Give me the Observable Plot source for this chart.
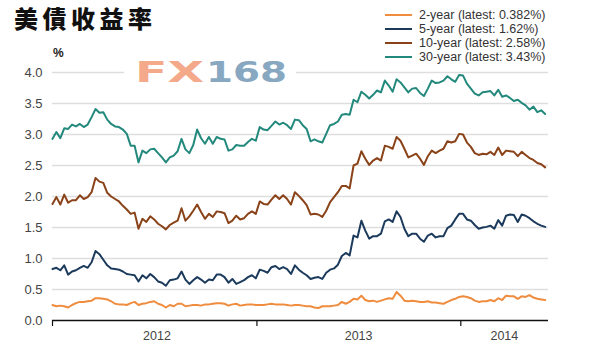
<!DOCTYPE html>
<html>
<head>
<meta charset="utf-8">
<script src="https://cdn.jsdelivr.net/npm/d3@7"></script>
<script src="https://cdn.jsdelivr.net/npm/@observablehq/plot@0.6"></script>
<style>
  html, body { margin: 0; padding: 0; background: #fff; }
  #wrap { position: relative; width: 601px; height: 360px; overflow: hidden; font-family: "Liberation Sans", Arial, sans-serif; }
  #chart { position: absolute; left: 0; top: 0; }
  .title { position: absolute; left: 14px; top: 6px; font-family: "Noto Sans CJK TC", "Noto Sans CJK SC", sans-serif; font-weight: 900; font-size: 24px; line-height: 24px; letter-spacing: 4.5px; color: #111; white-space: nowrap; }
  .unit { position: absolute; left: 53px; top: 46px; font-size: 12px; font-weight: bold; color: #222; }
  .leg { position: absolute; left: 385px; width: 27px; height: 2px; }
  .legt { position: absolute; left: 419px; font-size: 12.5px; line-height: 14px; color: #333; white-space: nowrap; }
</style>
</head>
<body>
<div id="wrap"></div>
<script>
// ---- data (weekly readings, Jan 2012 – end May 2014) ----
const seriesKeys = ["2-year", "5-year", "10-year", "30-year"];
const latestLabels = ["0.382%", "1.62%", "2.58%", "3.43%"];
const seriesColors = ["#ef8c3e", "#1b3a5c", "#8a4218", "#23897c"];
const startDate = "2012-01-01";
const endDate = "2014-06-07";
const yearTicks = ["2012-01-01", "2013-01-01", "2014-01-01"];
const yearLabelDates = ["2012-07-06", "2013-07-02", "2014-03-20"];
const yTicks = [0, 0.5, 1, 1.5, 2, 2.5, 3, 3.5, 4];

const y2 = [0.25,0.23,0.24,0.23,0.21,0.25,0.28,0.30,0.30,0.31,0.32,0.36,0.36,0.35,0.34,0.31,0.27,0.26,0.26,0.25,0.28,0.30,0.25,0.27,0.28,0.30,0.31,
0.27,0.25,0.21,0.25,0.23,0.27,0.27,0.23,0.24,0.25,0.25,0.24,0.26,0.26,0.27,0.28,0.28,0.27,0.24,0.26,0.27,0.24,0.25,0.26,0.26,0.25,0.25,
0.25,
0.26,0.27,0.26,0.26,0.26,0.25,0.24,0.25,0.25,0.24,0.23,0.23,0.21,0.20,0.23,0.23,0.23,0.24,0.25,0.30,0.27,0.30,0.35,0.34,0.40,0.33,0.31,0.32,
0.30,0.32,0.34,0.36,0.35,0.46,0.40,0.32,0.31,0.32,0.31,0.30,0.30,0.31,0.29,0.29,0.28,0.27,0.30,0.33,0.35,0.38,0.39,0.38,0.36,0.32,0.30,0.31,
0.31,0.33,0.31,0.36,0.33,0.40,0.39,0.39,0.35,0.39,0.38,0.41,0.37,0.35,0.34,0.33];

const y5 = [0.83,0.85,0.81,0.89,0.74,0.79,0.81,0.85,0.88,0.85,0.94,1.12,1.07,0.98,0.89,0.84,0.83,0.82,0.79,0.75,0.74,0.73,0.63,0.73,0.68,0.75,0.70,
0.63,0.61,0.56,0.65,0.66,0.68,0.79,0.66,0.59,0.65,0.70,0.66,0.61,0.66,0.65,0.74,0.74,0.70,0.61,0.67,0.59,0.62,0.65,0.70,0.73,0.68,0.82,
0.80,
0.77,0.86,0.88,0.83,0.86,0.83,0.75,0.89,0.82,0.77,0.73,0.67,0.69,0.70,0.67,0.77,0.82,0.84,0.90,1.04,1.09,1.05,1.37,1.34,1.61,1.45,1.32,1.36,
1.36,1.40,1.60,1.63,1.59,1.76,1.67,1.48,1.36,1.40,1.40,1.32,1.27,1.37,1.40,1.34,1.36,1.36,1.49,1.53,1.63,1.72,1.72,1.63,1.61,1.54,1.48,1.50,
1.51,1.53,1.48,1.62,1.53,1.69,1.71,1.70,1.59,1.71,1.69,1.65,1.60,1.56,1.53,1.51];

const y10 = [1.88,1.99,1.87,2.03,1.90,1.94,1.94,2.02,1.96,1.99,2.07,2.30,2.24,2.22,2.06,2.00,1.96,1.92,1.85,1.79,1.72,1.74,1.48,1.64,1.59,1.68,1.63,
1.56,1.52,1.47,1.54,1.58,1.61,1.81,1.61,1.68,1.77,1.87,1.75,1.64,1.72,1.67,1.76,1.75,1.73,1.57,1.61,1.69,1.63,1.65,1.72,1.76,1.72,1.92,
1.88,
1.87,1.95,2.02,1.96,2.02,1.96,1.87,2.07,2.01,1.94,1.86,1.71,1.72,1.71,1.67,1.77,1.91,1.99,2.07,2.17,2.17,2.13,2.50,2.53,2.73,2.61,2.51,2.58,
2.62,2.58,2.82,2.80,2.77,2.96,2.90,2.77,2.63,2.66,2.69,2.61,2.51,2.65,2.74,2.70,2.74,2.77,2.89,2.87,2.89,3.01,3.00,2.87,2.80,2.70,2.67,2.69,
2.68,2.72,2.67,2.79,2.67,2.74,2.73,2.72,2.65,2.72,2.67,2.62,2.59,2.54,2.52,2.47];

const y30 = [2.93,3.04,2.94,3.10,3.09,3.16,3.13,3.17,3.12,3.16,3.28,3.41,3.35,3.36,3.24,3.17,3.13,3.12,3.08,3.01,2.82,2.82,2.55,2.74,2.70,2.76,2.77,
2.70,2.63,2.55,2.63,2.66,2.73,2.93,2.76,2.70,2.83,3.08,2.94,2.85,2.96,2.85,2.96,2.93,2.92,2.74,2.76,2.83,2.82,2.82,2.88,2.93,2.90,3.12,
3.08,
3.07,3.14,3.21,3.16,3.19,3.15,3.09,3.24,3.23,3.15,3.09,2.89,2.92,2.89,2.87,3.01,3.15,3.17,3.21,3.32,3.33,3.32,3.56,3.52,3.69,3.64,3.58,3.64,
3.71,3.68,3.87,3.79,3.69,3.89,3.84,3.76,3.68,3.74,3.75,3.67,3.62,3.74,3.87,3.83,3.84,3.87,3.94,3.89,3.85,3.96,3.95,3.82,3.74,3.66,3.63,3.68,
3.69,3.70,3.63,3.72,3.61,3.63,3.59,3.54,3.56,3.51,3.47,3.40,3.45,3.36,3.39,3.33];

// ---- build table ----
const parse = d3.utcParse("%Y-%m-%d");
const t0 = parse(startDate);
const seriesValues = [y2, y5, y10, y30];
const rows = [];
seriesValues.forEach((vals, k) => {
  vals.forEach((v, i) => rows.push({date: d3.utcDay.offset(t0, 7 * i), value: v, key: seriesKeys[k]}));
});

const chart = Plot.plot({
  width: 601,
  height: 360,
  marginLeft: 52,
  marginRight: 53,
  marginTop: 72,
  marginBottom: 40,
  style: {background: "#fff", fontFamily: "'Liberation Sans', Arial, sans-serif", overflow: "visible"},
  x: {type: "utc", domain: [t0, parse(endDate)]},
  y: {domain: [0, 4]},
  color: {domain: seriesKeys, range: seriesColors},
  marks: [
    Plot.gridY(yTicks.filter(d => d > 0), {stroke: "#dedede", strokeOpacity: 1, strokeWidth: 1.3}),
    Plot.axisY(yTicks, {tickSize: 0, tickPadding: 10, tickFormat: d3.format(".1f"), fontSize: 13, fill: "#444", label: null}),
    Plot.lineY(rows, {x: "date", y: "value", z: "key", stroke: "key", strokeWidth: 2}),
    Plot.ruleY([0], {stroke: "#111", strokeWidth: 1.4}),
    Plot.axisX(yearTicks.map(parse), {tickSize: 6, tickFormat: () => "", stroke: "#111", strokeWidth: 1.2, label: null}),
    Plot.axisX(yearLabelDates.map(parse), {tickSize: 0, tickPadding: 11, tickFormat: d3.utcFormat("%Y"), fontSize: 12.5, fill: "#444", label: null})
  ]
});
chart.id = "chart";

// watermark
const svg = d3.select(chart);
const wm = svg.append("g").attr("text-anchor", "start");
wm.append("rect").attr("x", 124).attr("y", 58).attr("width", 172).attr("height", 30).attr("fill", "#fff");
wm.append("text").attr("x", 135).attr("y", 82).attr("text-anchor", "start").attr("textLength", 69).attr("lengthAdjust", "spacingAndGlyphs")
  .attr("font-family", "DejaVu Sans").attr("font-weight", "bold").attr("font-size", 28).attr("fill", "#f3a98a").text("FX");
wm.append("text").attr("x", 206).attr("y", 82).attr("text-anchor", "start").attr("textLength", 81).attr("lengthAdjust", "spacingAndGlyphs")
  .attr("font-family", "DejaVu Sans").attr("font-weight", "bold").attr("font-size", 28).attr("fill", "#88a7c0").text("168");

const wrap = document.getElementById("wrap");
wrap.appendChild(chart);

const title = document.createElement("div");
title.className = "title";
title.textContent = "美債收益率";
wrap.appendChild(title);

const unit = document.createElement("div");
unit.className = "unit";
unit.textContent = "%";
wrap.appendChild(unit);

const rowY = [15, 29, 43, 57];
seriesKeys.forEach((k, i) => {
  const ln = document.createElement("div");
  ln.className = "leg";
  ln.style.top = (rowY[i] - 1) + "px";
  ln.style.background = seriesColors[i];
  wrap.appendChild(ln);
  const tx = document.createElement("div");
  tx.className = "legt";
  tx.style.top = (rowY[i] - 7) + "px";
  tx.textContent = `${k} (latest: ${latestLabels[i]})`;
  wrap.appendChild(tx);
});
</script>
</body>
</html>
